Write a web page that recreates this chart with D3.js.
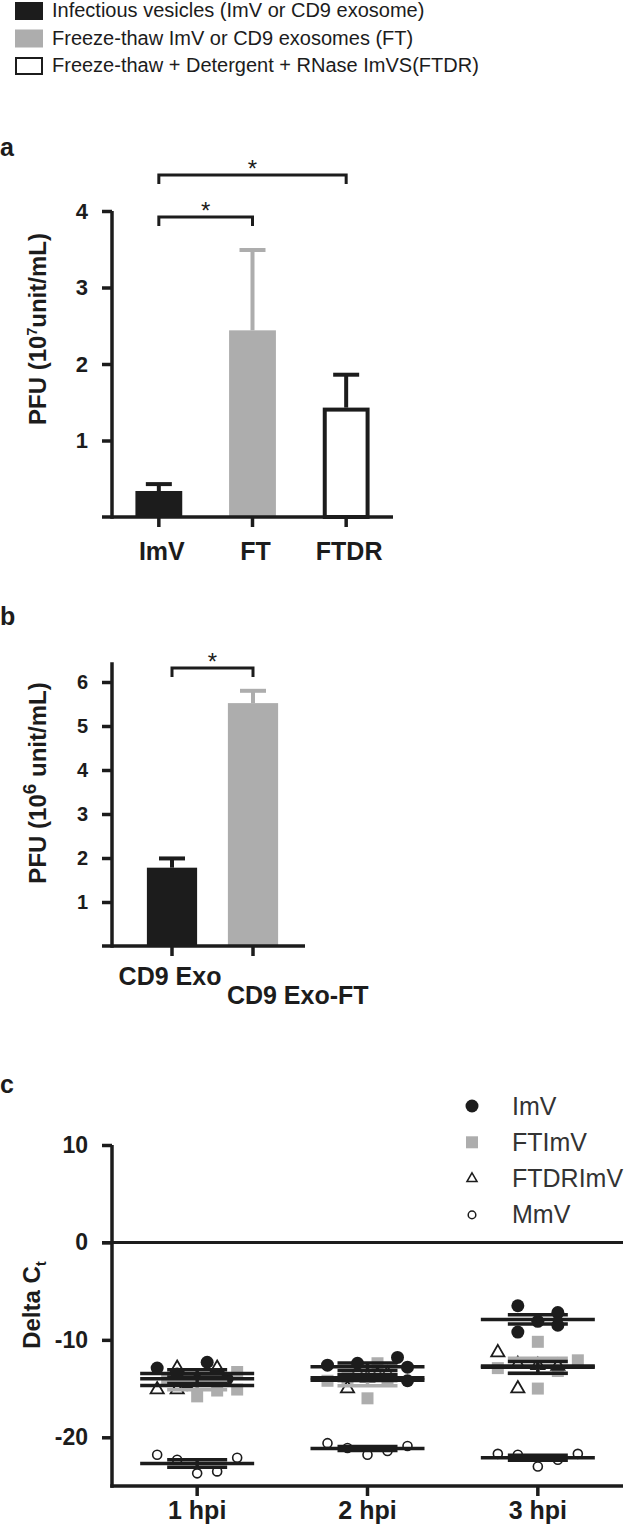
<!DOCTYPE html>
<html><head><meta charset="utf-8">
<script src="https://cdn.jsdelivr.net/npm/d3@7"></script>
<style>
body{margin:0;background:#fff}
svg{display:block}
text{font-family:"Liberation Sans",Arial,Helvetica,sans-serif}
</style>
</head><body>
<svg id="chart" width="626" height="1528"></svg>
<script>
// ---------------- DATA ----------------
const legendLabels = [
  "Infectious vesicles (ImV or CD9 exosome)",
  "Freeze-thaw ImV or CD9 exosomes (FT)",
  "Freeze-thaw + Detergent + RNase ImVS(FTDR)"
];
// panel a
const aCategories = ["ImV", "FT", "FTDR"];
const aMeans = [0.34, 2.44, 1.43];
const aErrTops = [0.43, 3.49, 1.86];
const aTicks = [1, 2, 3, 4];
const aBrackets = [
  {from: "ImV", to: "FT", level: 3.92},
  {from: "ImV", to: "FTDR", level: 4.47}
];
// panel b
const bCategories = ["CD9 Exo", "CD9 Exo-FT"];
const bMeans = [1.78, 5.52];
const bErrTops = [1.99, 5.80];
const bTicks = [1, 2, 3, 4, 5, 6];
const bBrackets = [{from: "CD9 Exo", to: "CD9 Exo-FT", level: 6.32}];
// panel c (values per time point; "col" = replicate column within the group)
const cTimes = ["1 hpi", "2 hpi", "3 hpi"];
const cSeries = ["ImV", "FTImV", "FTDRImV", "MmV"];
const cTicks = [10, 0, -10, -20];
const imvValues = [
  [-12.9, -13.5, -14.6, -12.3, -14.0],
  [-12.6, -12.4, -11.8, -12.8, -14.2],
  [-6.5, -9.2, -8.1, -7.2, -8.5]
];
const imvCols = [[-2, -1, -0.5, 0.5, 1.5], [-2, -0.5, 1.5, 2, 2], [-1, -1, 0, 1, 1]];
const ftValues = [
  [-14.0, -15.8, -15.2, -13.3, -15.1],
  [-14.2, -13.9, -16.0, -12.4, -14.2],
  [-12.9, -10.2, -15.0, -13.2, -12.1]
];
const ftCols = [[-1.5, 0, 1, 2, 2], [-2, -1, 0, 0.5, 1], [-2, 0, 0, 1, 2]];
const ftdrValues = [
  [-15.1, -15.1, -12.9, -14.0, -12.9],
  [-15.0, -13.4, -13.9, -13.6, -13.5],
  [-11.3, -15.0, -12.5, -12.6, -12.7]
];
const ftdrCols = [[-2, -1, -1, 0, 1], [-1, -0.5, 0, 0.5, 1], [-2, -1, -1, 0, 1]];
const mmvValues = [
  [-21.8, -22.3, -23.7, -23.5, -22.1],
  [-20.6, -21.1, -21.8, -21.4, -20.9],
  [-21.7, -21.8, -23.0, -22.3, -21.7]
];
const mmvCols = [[-2, -1, 0, 1, 2], [-2, -1, 0, 1, 2], [-2, -1, 0, 1, 2]];

// ---------------- STYLE ----------------
const DARK = "#1c1c1c", GRAY = "#adadad", WHITE = "#ffffff";
const svg = d3.select("#chart");

// ---------------- TOP LEGEND ----------------
const legendFill = [DARK, GRAY, WHITE];
legendLabels.forEach((t, i) => {
  const base = 17 + i * 27.5;
  const r = svg.append("rect")
    .attr("x", i === 2 ? 16 : 15).attr("y", base - (i === 2 ? 14 : 15))
    .attr("width", i === 2 ? 26 : 28).attr("height", i === 2 ? 16 : 18)
    .attr("fill", legendFill[i]);
  if (i === 2) r.attr("stroke", DARK).attr("stroke-width", 2);
  svg.append("text").attr("x", 52).attr("y", base)
    .attr("font-size", 20).attr("fill", DARK).text(t);
});

function panelLetter(t, y) {
  svg.append("text").attr("x", 0).attr("y", y).attr("font-size", 25)
    .attr("font-weight", "bold").attr("fill", DARK).text(t);
}

function yAxis(scale, ticks, x, fs) {
  const g = svg.append("g").attr("transform", `translate(${x},0)`)
    .call(d3.axisLeft(scale).tickValues(ticks).tickSize(10).tickPadding(14)
      .tickSizeOuter(0).tickFormat(d => String(d)));
  g.select(".domain").remove();
  g.selectAll(".tick line").attr("stroke", DARK).attr("stroke-width", 3.5);
  g.selectAll(".tick text").attr("font-size", fs).attr("font-weight", "bold")
    .attr("fill", DARK).attr("font-family", '"Liberation Sans",Arial,sans-serif');
  return g;
}

function line(x1, y1, x2, y2, color, w) {
  svg.append("line").attr("x1", x1).attr("y1", y1).attr("x2", x2).attr("y2", y2)
    .attr("stroke", color).attr("stroke-width", w);
}

function bracket(xs, y, level, from, to) {
  const x1 = xs(from) + xs.bandwidth() / 2, x2 = xs(to) + xs.bandwidth() / 2;
  const yy = y(level);
  svg.append("path").attr("d", `M${x1},${yy + 9}V${yy}H${x2}V${yy + 9}`)
    .attr("fill", "none").attr("stroke", DARK).attr("stroke-width", 3);
  svg.append("text").attr("x", (x1 + x2) / 2).attr("y", yy + 2)
    .attr("text-anchor", "middle").attr("font-size", 24).attr("fill", DARK).text("*");
}

function barPanel(cats, means, errs, xs, ys, colors, errColors) {
  cats.forEach((c, i) => {
    const x0 = xs(c), w = xs.bandwidth(), cx = x0 + w / 2;
    const top = ys(means[i]), base = ys(0);
    if (colors[i] === WHITE) {
      svg.append("rect").attr("x", x0 + 2).attr("y", top + 2)
        .attr("width", w - 4).attr("height", base - top - 2)
        .attr("fill", WHITE).attr("stroke", DARK).attr("stroke-width", 4);
    } else {
      svg.append("rect").attr("x", x0).attr("y", top)
        .attr("width", w).attr("height", base - top).attr("fill", colors[i]);
    }
    line(cx, top, cx, ys(errs[i]), errColors[i], 4);
    line(cx - 13, ys(errs[i]), cx + 13, ys(errs[i]), errColors[i], 4);
  });
}

function rotLabel(x, y, parts) {
  const t = svg.append("text").attr("transform", `translate(${x},${y}) rotate(-90)`)
    .attr("text-anchor", "middle").attr("font-weight", "bold").attr("fill", DARK);
  parts.forEach(p => {
    t.append("tspan").attr("font-size", p.fs).attr("dy", p.dy || 0).text(p.t);
  });
}

// ---------------- PANEL A ----------------
panelLetter("a", 156);
const ax = d3.scaleBand().domain(aCategories).range([112, 393]).paddingInner(0.5).paddingOuter(0.25);
const ay = d3.scaleLinear().domain([0, 4]).range([517, 211]);
barPanel(aCategories, aMeans, aErrTops, ax, ay, [DARK, GRAY, WHITE], [DARK, GRAY, DARK]);
line(112, ay(4), 112, ay(0) + 1.75, DARK, 3.5);
yAxis(ay, aTicks, 112, 22);
line(102, ay(0), 393, ay(0), DARK, 3.5);
aCategories.forEach(c => {
  const cx = ax(c) + ax.bandwidth() / 2;
  line(cx, ay(0), cx, ay(0) + 10, DARK, 3.5);
  svg.append("text").attr("x", cx + 3).attr("y", 560).attr("text-anchor", "middle")
    .attr("font-size", 25).attr("font-weight", "bold").attr("fill", DARK).text(c);
});
aBrackets.forEach(b => bracket(ax, ay, b.level, b.from, b.to));
rotLabel(46, 329, [{t: "PFU (10", fs: 24}, {t: "7", fs: 14, dy: -9}, {t: "unit/mL)", fs: 24, dy: 9}]);

// ---------------- PANEL B ----------------
panelLetter("b", 625);
const bx = d3.scaleBand().domain(bCategories).range([131.5, 293.5]).paddingInner(0.38).paddingOuter(0.19);
const by = d3.scaleLinear().domain([0, 6]).range([946, 682]);
barPanel(bCategories, bMeans, bErrTops, bx, by, [DARK, GRAY], [DARK, GRAY]);
line(112, by(6.45), 112, by(0) + 1.75, DARK, 3.5);
yAxis(by, bTicks, 112, 20);
line(102, by(0), 305, by(0), DARK, 3.5);
bCategories.forEach((c, i) => {
  const cx = bx(c) + bx.bandwidth() / 2;
  line(cx, by(0), cx, by(0) + 10, DARK, 3.5);
  svg.append("text")
    .attr("x", i === 0 ? cx - 2 : bx(c) - 1)
    .attr("y", i === 0 ? 985 : 1004)
    .attr("text-anchor", i === 0 ? "middle" : "start")
    .attr("font-size", 25).attr("font-weight", "bold").attr("fill", DARK).text(c);
});
bBrackets.forEach(b => bracket(bx, by, b.level, b.from, b.to));
rotLabel(46, 783, [{t: "PFU (10", fs: 24}, {t: "6", fs: 19, dy: -10}, {t: " unit/mL)", fs: 24, dy: 10}]);

// ---------------- PANEL C ----------------
panelLetter("c", 1093);
const cx = d3.scalePoint().domain(cTimes).range([112, 623]).padding(0.5);
const cy = d3.scaleLinear().domain([-25, 10]).range([1486, 1145]);
const colX = d3.scaleLinear().domain([-2, 2]).range([-40, 40]);

line(112, cy(10), 112, cy(-25) + 1.75, DARK, 3.5);
yAxis(cy, cTicks, 112, 23);
line(112 - 1.75, cy(-25), 623, cy(-25), DARK, 3.5);
line(102, cy(0), 623, cy(0), DARK, 3);
cTimes.forEach(t => {
  line(cx(t), cy(-25), cx(t), cy(-25) + 10, DARK, 3.5);
  svg.append("text").attr("x", cx(t)).attr("y", 1519).attr("text-anchor", "middle")
    .attr("font-size", 25).attr("font-weight", "bold").attr("fill", DARK).text(t);
});
rotLabel(40, 1305, [{t: "Delta C", fs: 24}, {t: "t", fs: 15, dy: 6}]);

const seriesDef = {
  ImV:     {vals: imvValues, cols: imvCols, sym: d3.symbolCircle, size: Math.PI * 6.5 * 6.5, fill: DARK, stroke: "none", sw: 0, err: DARK, legSize: Math.PI * 6.5 * 6.5},
  FTImV:   {vals: ftValues, cols: ftCols, sym: d3.symbolSquare, size: 144, fill: GRAY, stroke: "none", sw: 0, err: GRAY, legSize: 144},
  FTDRImV: {vals: ftdrValues, cols: ftdrCols, sym: d3.symbolTriangle, size: 75, fill: WHITE, stroke: DARK, sw: 1.8, err: DARK, legSize: 44},
  MmV:     {vals: mmvValues, cols: mmvCols, sym: d3.symbolCircle, size: Math.PI * 4.5 * 4.5, fill: WHITE, stroke: DARK, sw: 1.6, err: DARK, legSize: Math.PI * 3.8 * 3.8}
};

const drawOrder = ["FTImV", "FTDRImV", "MmV", "ImV"];
drawOrder.forEach(s => {
  const d = seriesDef[s];
  const sym = d3.symbol().type(d.sym).size(d.size);
  cTimes.forEach((t, ti) => {
    d.vals[ti].forEach((v, k) => {
      svg.append("path").attr("d", sym())
        .attr("transform", `translate(${cx(t) + colX(d.cols[ti][k])},${cy(v)})`)
        .attr("fill", d.fill).attr("stroke", d.stroke).attr("stroke-width", d.sw);
    });
  });
});

// error bars (SEM) then mean lines
cSeries.forEach(s => {
  const d = seriesDef[s];
  cTimes.forEach((t, ti) => {
    const vals = d.vals[ti];
    const m = d3.mean(vals), sem = d3.deviation(vals) / Math.sqrt(vals.length);
    const x0 = cx(t);
    line(x0, cy(m + sem), x0, cy(m - sem), d.err, 3.5);
    line(x0 - 30, cy(m + sem), x0 + 30, cy(m + sem), d.err, 3.5);
    line(x0 - 30, cy(m - sem), x0 + 30, cy(m - sem), d.err, 3.5);
  });
});
cSeries.forEach(s => {
  const d = seriesDef[s];
  cTimes.forEach((t, ti) => {
    const m = d3.mean(d.vals[ti]);
    line(cx(t) - 57, cy(m), cx(t) + 57, cy(m), DARK, 3.5);
  });
});

// panel c legend
cSeries.forEach((s, i) => {
  const d = seriesDef[s];
  const yy = 1106 + i * 36.3;
  svg.append("path").attr("d", d3.symbol().type(d.sym).size(d.legSize)())
    .attr("transform", `translate(472,${yy})`)
    .attr("fill", d.fill).attr("stroke", d.stroke).attr("stroke-width", d.sw ? 1.5 : 0);
  svg.append("text").attr("x", 512).attr("y", yy + 8.5)
    .attr("font-size", 25).attr("fill", "#333").text(s);
});
</script>
</body></html>
